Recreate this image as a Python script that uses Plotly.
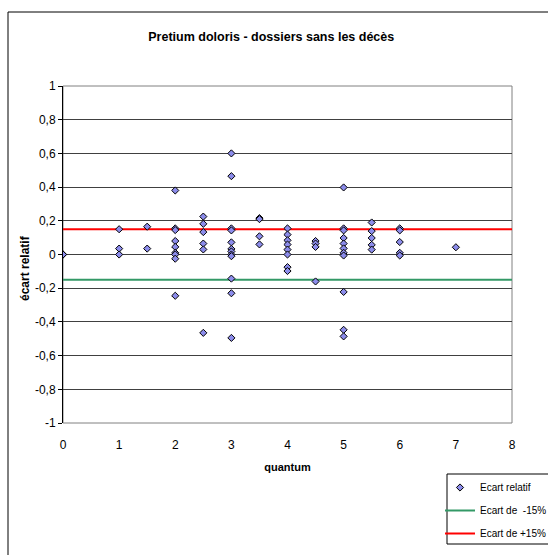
import plotly.graph_objects as go

# ---- data ----
quantum = [0, 0, 0,
           1, 1, 1,
           1.5, 1.5,
           2, 2, 2, 2, 2, 2, 2, 2, 2,
           2.5, 2.5, 2.5, 2.5, 2.5, 2.5,
           3, 3, 3, 3, 3, 3, 3, 3, 3, 3, 3, 3,
           3.5, 3.5, 3.5, 3.5,
           4, 4, 4, 4, 4, 4, 4, 4,
           4.5, 4.5, 4.5, 4.5,
           5, 5, 5, 5, 5, 5, 5, 5, 5, 5, 5,
           5.5, 5.5, 5.5, 5.5, 5.5,
           6, 6, 6, 6, 6,
           7]
ecart = [0, 0, 0,
         0.15, 0.035, 0,
         0.165, 0.035,
         0.38, 0.155, 0.145, 0.08, 0.045, 0.01, 0, -0.025, -0.245,
         0.225, 0.182, 0.133, 0.065, 0.03, -0.465,
         0.6, 0.465, 0.155, 0.143, 0.072, 0.033, 0.018, 0, -0.01, -0.143, -0.23, -0.495,
         0.216, 0.21, 0.108, 0.06,
         0.155, 0.118, 0.084, 0.059, 0.029, 0, -0.075, -0.098,
         0.08, 0.065, 0.045, -0.16,
         0.398, 0.155, 0.143, 0.098, 0.065, 0.036, 0.01, -0.006, -0.222, -0.447, -0.486,
         0.19, 0.139, 0.098, 0.057, 0.029,
         0.155, 0.143, 0.074, 0.01, -0.006,
         0.043]
line_x = [0, 8]
ecart_moins = [-0.15, -0.15]
ecart_plus = [0.15, 0.15]

y_ticks = [1, 0.8, 0.6, 0.4, 0.2, 0, -0.2, -0.4, -0.6, -0.8, -1]
y_labels = ["1", "0,8", "0,6", "0,4", "0,2", "0", "-0,2", "-0,4", "-0,6", "-0,8", "-1"]
x_ticks = [0, 1, 2, 3, 4, 5, 6, 7, 8]
x_labels = ["0", "1", "2", "3", "4", "5", "6", "7", "8"]

title = "Pretium doloris - dossiers sans les décès"
x_title = "quantum"
y_title = "écart relatif"
names = ["Ecart relatif", "Ecart de \u00a0-15%", "Ecart de +15%"]

FONT = "Liberation Sans, Arial, sans-serif"

fig = go.Figure()
fig.add_trace(go.Scatter(x=line_x, y=ecart_moins, mode="lines", name=names[1],
                         line=dict(color="#339966", width=2), legendrank=2, legendgroup="b"))
fig.add_trace(go.Scatter(x=line_x, y=ecart_plus, mode="lines", name=names[2],
                         line=dict(color="#FF0000", width=2), legendrank=3, legendgroup="c"))
fig.add_trace(go.Scatter(x=quantum, y=ecart, mode="markers", name=names[0],
                         marker=dict(symbol="diamond", size=5.5, color="#8C8CEB",
                                     line=dict(color="#000000", width=1)),
                         legendrank=1, legendgroup="a"))

fig.update_layout(
    width=548, height=555,
    margin=dict(l=63, r=36, t=86, b=132, autoexpand=False),
    paper_bgcolor="white", plot_bgcolor="white",
    font=dict(family=FONT, size=12, color="#000000"),
    title=dict(text="<b>" + title + "</b>", x=0.495, xanchor="center",
               y=1 - 37 / 555, yanchor="middle", font=dict(size=12.5)),
    showlegend=True,
    legend=dict(x=(440 - 63) / 449, y=(423 - 473) / 337, xanchor="left", yanchor="top",
                bgcolor="rgba(0,0,0,0)", borderwidth=0,
                font=dict(size=10), tracegroupgap=4, itemwidth=30),
    xaxis=dict(range=[0, 8], tickvals=x_ticks, ticktext=x_labels, showgrid=False,
               zeroline=False, showline=False, ticks="", ticklabelstandoff=13,
               title=dict(text="<b>" + x_title + "</b>", standoff=12, font=dict(size=11))),
    xaxis2=dict(range=[0, 8], overlaying="x", anchor="free", position=0.5,
                tickvals=x_ticks, showticklabels=False, ticks="outside", ticklen=4,
                tickcolor="#808080", showgrid=False, zeroline=False, showline=False, side="bottom"),
    yaxis=dict(range=[-1, 1], tickvals=y_ticks, ticktext=y_labels, showgrid=True,
               gridcolor="#404040", gridwidth=1, zeroline=False, showline=True,
               linecolor="#000000", linewidth=1, ticks="outside", ticklen=4,
               tickcolor="#000000"),
    shapes=[
        dict(type="rect", xref="paper", yref="paper", x0=0, x1=1, y0=0, y1=1,
             line=dict(color="#808080", width=1), layer="below"),
        dict(type="rect", xref="paper", yref="paper", x0=(8 - 63) / 449, x1=1.2,
             y0=-0.5, y1=(423 - 12) / 337, line=dict(color="#000000", width=1), layer="below"),
        dict(type="rect", xref="paper", yref="paper", x0=(447 - 63) / 449, x1=1.2,
             y0=(423 - 544) / 337, y1=(423 - 474) / 337,
             line=dict(color="#000000", width=1), fillcolor="white", layer="above"),
    ],
    annotations=[
        dict(text="<b>" + y_title + "</b>", xref="paper", yref="paper",
             x=(25 - 63) / 449, y=(423 - 268) / 337, textangle=-90, showarrow=False,
             xanchor="center", yanchor="middle", font=dict(size=12)),
    ],
)

fig.write_html("out.html")
